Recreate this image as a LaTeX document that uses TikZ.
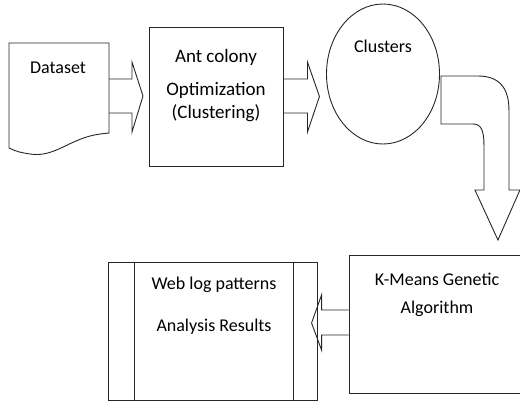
\documentclass[tikz,border=0pt]{standalone}
\usepackage{fontspec}
\setmainfont{Carlito}
\usetikzlibrary{positioning,shapes.geometric}

\tikzset{
  line/.style={line width=0.9pt, draw=black!85},
  box/.style={line, rectangle, minimum width=#1, inner sep=0pt},
  txt/.style={align=center, inner sep=3pt},
  fatarrow/.style={line, line join=miter},
}

\begin{document}
\begin{tikzpicture}[x=1pt, y=-1pt, font=\fontsize{18}{22}\selectfont]
  \useasboundingbox (0,0) rectangle (520,402);

  % Dataset (document shape)
  \draw[line] (109,133) -- (109,43) -- (9,43) -- (9,148)
    .. controls (18,152) .. (30,154)
    .. controls (55,158) and (70,138) .. (100,134) -- cycle;
  \coordinate (dataR) at (109,96);
  \node[txt] (data) at (58,68) {Dataset};

  % Ant colony box
  \node[box=134pt, minimum height=139pt] (aco) at (216,96.5) {};
  \node[txt, below=20pt of aco.north, font=\fontsize{19}{23}\selectfont] (acotext)
    {Ant colony\\[10pt]Optimization\\(Clustering)};

  % Clusters
  \node[line, ellipse, minimum width=113pt, minimum height=140pt] (clu) at (383,74) {};
  \node[txt, below=33pt of clu.north] (clutext) {Clusters};

  % K-Means box (runs off the right edge)
  \node[box=176pt, minimum height=138pt] (km) at (437,324) {};
  \node[txt, below=15pt of km.north, text depth=0pt] (kmtext)
    {K-Means Genetic\\[6pt]Algorithm};

  % Results box with side bars
  \node[box=209pt, minimum height=138pt] (res) at (212.5,331) {};
  \draw[line] ([xshift=27pt]res.north west) -- ([xshift=27pt]res.south west);
  \draw[line] ([xshift=-24pt]res.north east) -- ([xshift=-24pt]res.south east);
  \node[txt, below=12pt of res.north, xshift=1.5pt] (restext)
    {Web log patterns\\[20pt]Analysis Results};

  % block arrows
  \draw[fatarrow, shift={(dataR)}] (0,-17) -- (23,-17) -- (23,-34) -- (34,0)
    -- (23,36) -- (23,17) -- (0,17);
  \draw[fatarrow, shift={(aco.east)}] (0,-17.5) -- (24,-17.5) -- (24,-34.5) -- (36,0)
    -- (24,35.5) -- (24,16.5) -- (0,16.5);
  \draw[fatarrow, shift={(clu.east)}] (1,50) -- (1,2) -- (38,2)
    .. controls (61,2) and (69,16) .. (69,36) -- (69,116) -- (80,116)
    -- (58,166) -- (35,116) -- (44,116) -- (44,71)
    .. controls (44,56) and (41,50) .. (33,50) -- cycle;
  \draw[fatarrow, shift={(km.west)}] (0,-14) -- (-27,-14) -- (-27,-29) -- (-37,-1)
    -- (-27,26) -- (-27,11) -- (0,11);
\end{tikzpicture}
\end{document}
